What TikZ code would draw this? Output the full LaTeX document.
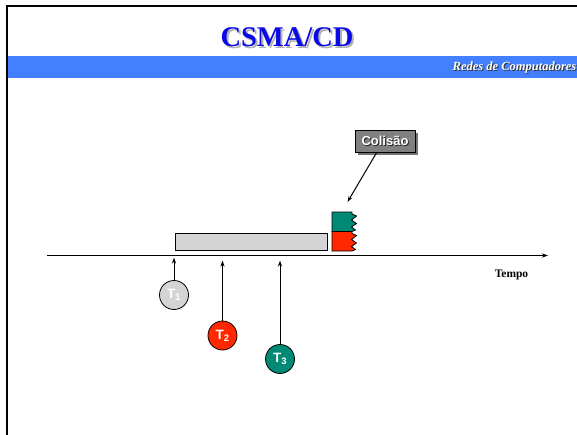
\documentclass[tikz,border=0pt]{standalone}
\usepackage{fontspec}
\setmainfont{Liberation Serif}
\newfontfamily\arialf{Liberation Sans}
\usetikzlibrary{arrows.meta,shadows}
\definecolor{bandblue}{RGB}{66,128,255}
\definecolor{titleblue}{RGB}{10,10,230}
\definecolor{tealc}{RGB}{0,138,118}
\definecolor{redc}{RGB}{255,40,0}
\definecolor{lgray}{RGB}{212,212,212}
\definecolor{boxgray}{RGB}{128,128,128}
\tikzset{
  arr/.style={-{Stealth[length=6pt,width=4pt]}, line width=1.1pt},
  circ/.style={circle, draw=black, line width=0.8pt, minimum size=29pt, inner sep=0pt,
     text=white, font=\arialf\bfseries\fontsize{13.5}{13.5}\selectfont},
  colbox/.style={draw=black, line width=0.6pt, fill=boxgray, minimum width=60pt, minimum height=22pt,
     inner sep=0pt, font=\arialf\bfseries\fontsize{13}{13}\selectfont, text=white,
     drop shadow={shadow xshift=3pt, shadow yshift=-3pt, fill=black!55, opacity=1}},
  blk/.style={draw=black, line width=0.8pt}
}
\newcommand{\shtext}[3]{{\color{#1}\rlap{\hspace{#3}\raisebox{-#3}{#2}}}#2}
\begin{document}
\begin{tikzpicture}[x=1pt,y=-1pt]
\useasboundingbox (0,0) rectangle (577,434);
\fill[white] (0,0) rectangle (577,434);
\fill[bandblue] (8,56) rectangle (577,78);
\draw[line width=2pt] (7,435) -- (7,6) -- (578,6);
% title
\node[text=titleblue, font=\bfseries\fontsize{28.5}{30}\selectfont] (title) at (287,38) {\shtext{black!30}{CSMA/CD}{2pt}};
\node[anchor=east, inner sep=0pt, text=white, font=\bfseries\itshape\fontsize{12.5}{13}\selectfont] (sub) at (576.5,68) {\shtext{black!80}{Redes de Computadores}{1pt}};
% timeline
\coordinate (tl0) at (47,255.5);
\coordinate (tl1) at (548,255.5);
\draw[arr, line width=1.2pt] (tl0) -- (tl1);
\node[font=\bfseries\fontsize{11.5}{12}\selectfont] (tempo) at (511.5,275) {Tempo};
% bar
\node[blk, fill=lgray, minimum width=152pt, minimum height=16.5pt, inner sep=0pt, anchor=north west] (bar) at (175,233) {};
% collision blocks
\draw[blk, fill=tealc] (332,212) -- (352,212) -- (352,214) -- (356.5,216) -- (351.5,220) -- (356.5,223.5) -- (351.5,227) -- (355.5,230) -- (352,231.5) -- (332,231.5) -- cycle;
\draw[blk, fill=redc] (332,231.5) -- (352,231.5) -- (352,233.5) -- (356.5,235.5) -- (351.5,239.5) -- (356.5,243) -- (351.5,246.5) -- (355.5,249.5) -- (352,251) -- (332,251) -- cycle;
% collision label
\node[colbox] (col) at (385,141) {\shtext{black!85}{Colisão}{1pt}};
\coordinate (hit) at (347.5,202);
\draw[arr, line width=1pt] (col.234) -- (hit);
% stations
\node[circ, fill=lgray] (t1) at (174,295) {T\textsubscript{1}};
\node[circ, fill=redc] (t2) at (222.5,335.5) {T\textsubscript{2}};
\node[circ, fill=tealc] (t3) at (280,359) {T\textsubscript{3}};
\coordinate (a1) at (174,257.5);
\coordinate (a2) at (222.5,260.5);
\coordinate (a3) at (280,260.5);
\draw[arr, line width=1pt] (t1) -- (a1);
\draw[arr, line width=1pt] (t2) -- (a2);
\draw[arr, line width=1pt] (t3) -- (a3);
\end{tikzpicture}
\end{document}
